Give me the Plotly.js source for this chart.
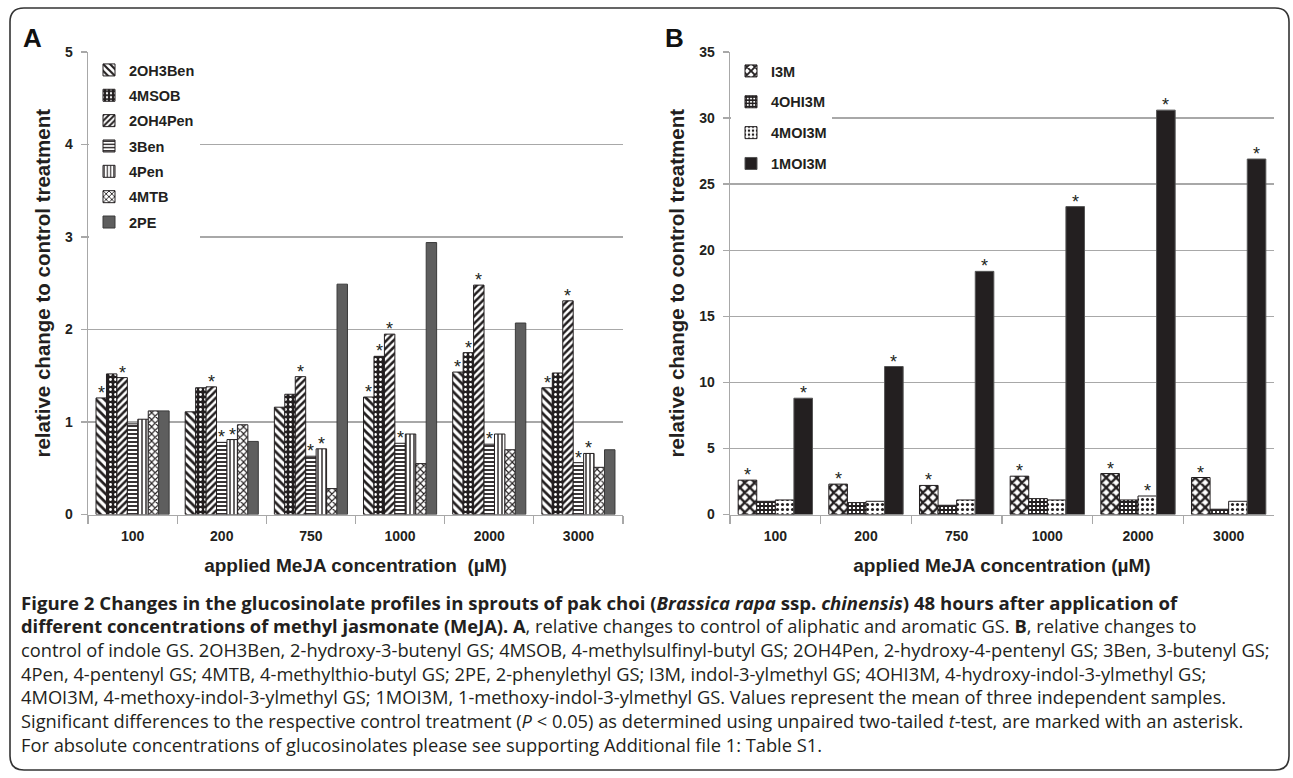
<!DOCTYPE html>
<html><head><meta charset="utf-8">
<script src="https://cdn.plot.ly/plotly-3.0.1.min.js"></script>
<style>html,body{margin:0;padding:0;background:#fff}#chart{width:1293px;height:778px}</style>
</head><body><div id="chart"></div>
<script>
// ---------- data ----------
const concentrations = ['100', '200', '750', '1000', '2000', '3000'];

const seriesA = ['2OH3Ben', '4MSOB', '2OH4Pen', '3Ben', '4Pen', '4MTB', '2PE'];
const val2OH3Ben = [1.26, 1.11, 1.16, 1.27, 1.54, 1.37];
const val4MSOB   = [1.52, 1.37, 1.30, 1.71, 1.75, 1.53];
const val2OH4Pen = [1.48, 1.38, 1.49, 1.95, 2.48, 2.31];
const val3Ben    = [0.98, 0.78, 0.63, 0.77, 0.76, 0.56];
const val4Pen    = [1.03, 0.81, 0.71, 0.87, 0.87, 0.66];
const val4MTB    = [1.12, 0.97, 0.28, 0.55, 0.70, 0.51];
const val2PE     = [1.12, 0.79, 2.49, 2.94, 2.07, 0.70];

const sig2OH3Ben = [1, 0, 0, 1, 1, 1];
const sig4MSOB   = [0, 0, 0, 1, 1, 0];
const sig2OH4Pen = [1, 1, 1, 1, 1, 1];
const sig3Ben    = [0, 1, 1, 1, 1, 1];
const sig4Pen    = [0, 1, 1, 0, 0, 1];
const sig4MTB    = [0, 0, 0, 0, 0, 0];
const sig2PE     = [0, 0, 0, 0, 0, 0];

const seriesB = ['I3M', '4OHI3M', '4MOI3M', '1MOI3M'];
const valI3M    = [2.6, 2.3, 2.2, 2.9, 3.1, 2.8];
const val4OHI3M = [1.0, 0.9, 0.7, 1.2, 1.1, 0.4];
const val4MOI3M = [1.1, 1.0, 1.1, 1.1, 1.4, 1.0];
const val1MOI3M = [8.8, 11.2, 18.4, 23.3, 30.6, 26.9];

const sigI3M    = [1, 1, 1, 1, 1, 1];
const sig4OHI3M = [0, 0, 0, 0, 0, 0];
const sig4MOI3M = [0, 0, 0, 0, 1, 0];
const sig1MOI3M = [1, 1, 1, 1, 1, 1];

const yTicksA = [0, 1, 2, 3, 4, 5];
const yTicksB = [0, 5, 10, 15, 20, 25, 30, 35];

// ---------- styling ----------
const W = 1293, H = 778;
const px = x => x / W;
const py = y => 1 - y / H;
const FONT = 'Liberation Sans, Arial, sans-serif';
const CAPFONT = 'Open Sans, Noto Sans, sans-serif';
const BARGAP = 0.18;
const INK = '#231f20';

const stylesA = [
  {shape: '\\', bgcolor: 'white', fgcolor: INK, size: 6, solidity: 0.45},
  {shape: '.', bgcolor: INK, fgcolor: 'white', size: 5, solidity: 0.25},
  {shape: '/', bgcolor: 'white', fgcolor: INK, size: 5, solidity: 0.5},
  {shape: '-', bgcolor: 'white', fgcolor: INK, size: 4, solidity: 0.45},
  {shape: '|', bgcolor: 'white', fgcolor: INK, size: 4, solidity: 0.35},
  {shape: 'x', bgcolor: 'white', fgcolor: INK, size: 5, solidity: 0.4},
  null
];
const stylesB = [
  {shape: 'x', bgcolor: 'white', fgcolor: INK, size: 7, solidity: 0.55},
  {shape: '+', bgcolor: 'white', fgcolor: INK, size: 4, solidity: 0.7},
  {shape: '.', bgcolor: 'white', fgcolor: INK, size: 5, solidity: 0.3},
  null
];

const valsA = [val2OH3Ben, val4MSOB, val2OH4Pen, val3Ben, val4Pen, val4MTB, val2PE];
const sigsA = [sig2OH3Ben, sig4MSOB, sig2OH4Pen, sig3Ben, sig4Pen, sig4MTB, sig2PE];
const valsB = [valI3M, val4OHI3M, val4MOI3M, val1MOI3M];
const sigsB = [sigI3M, sig4OHI3M, sig4MOI3M, sig1MOI3M];

const traces = [];
seriesA.forEach((name, i) => {
  const st = stylesA[i];
  const marker = st ? {color: 'white', line: {color: INK, width: 1}, pattern: Object.assign({fillmode: 'replace'}, st)}
                    : {color: '#5e5e5e', line: {color: '#3a3a3a', width: 1}};
  traces.push({type: 'bar', name: name, x: concentrations, y: valsA[i], marker: marker,
    xaxis: 'x', yaxis: 'y', legend: 'legend', legendgroup: 'a' + i, hoverinfo: 'y+name'});
});
seriesB.forEach((name, i) => {
  const st = stylesB[i];
  const marker = st ? {color: 'white', line: {color: INK, width: 1}, pattern: Object.assign({fillmode: 'replace'}, st)}
                    : {color: INK, line: {color: '#555', width: 1}};
  traces.push({type: 'bar', name: name, x: concentrations, y: valsB[i], marker: marker,
    xaxis: 'x2', yaxis: 'y2', legend: 'legend2', legendgroup: 'b' + i, hoverinfo: 'y+name'});
});

// asterisks
const annotations = [];
function stars(vals, sigs, xa, ya) {
  const n = vals.length, w = (1 - BARGAP) / n;
  vals.forEach((arr, i) => {
    const off = -(1 - BARGAP) / 2 + (i + 0.5) * w;
    arr.forEach((v, k) => {
      if (sigs[i][k]) annotations.push({xref: xa, yref: ya, x: k + off, y: v, text: '*',
        showarrow: false, yanchor: 'bottom', yshift: -7, font: {family: FONT, size: 18, color: INK}});
    });
  });
}
stars(valsA, sigsA, 'x', 'y');
stars(valsB, sigsB, 'x2', 'y2');

// panel letters
annotations.push({xref: 'paper', yref: 'paper', x: px(21), y: py(38), xanchor: 'left', yanchor: 'middle', text: '<b>A</b>', showarrow: false, font: {family: FONT, size: 26, color: '#111'}});
annotations.push({xref: 'paper', yref: 'paper', x: px(663), y: py(38), xanchor: 'left', yanchor: 'middle', text: '<b>B</b>', showarrow: false, font: {family: FONT, size: 26, color: '#111'}});

// caption
const captionLines = [
  '<b>Figure 2 Changes in the glucosinolate profiles in sprouts of pak choi (<i>Brassica rapa</i> ssp. <i>chinensis</i>) 48 hours after application of</b>',
  '<b>different concentrations of methyl jasmonate (MeJA). A</b>, relative changes to control of aliphatic and aromatic GS. <b>B</b>, relative changes to',
  'control of indole GS. 2OH3Ben, 2-hydroxy-3-butenyl GS; 4MSOB, 4-methylsulfinyl-butyl GS; 2OH4Pen, 2-hydroxy-4-pentenyl GS; 3Ben, 3-butenyl GS;',
  '4Pen, 4-pentenyl GS; 4MTB, 4-methylthio-butyl GS; 2PE, 2-phenylethyl GS; I3M, indol-3-ylmethyl GS; 4OHI3M, 4-hydroxy-indol-3-ylmethyl GS;',
  '4MOI3M, 4-methoxy-indol-3-ylmethyl GS; 1MOI3M, 1-methoxy-indol-3-ylmethyl GS. Values represent the mean of three independent samples.',
  'Significant differences to the respective control treatment (<i>P</i> &lt; 0.05) as determined using unpaired two-tailed <i>t</i>-test, are marked with an asterisk.',
  'For absolute concentrations of glucosinolates please see supporting Additional file 1: Table S1.'
];
const captionSizes = [18.6, 18.3, 18.3, 18.3, 18.3, 18.3, 18.3];
captionLines.forEach((t, i) => {
  annotations.push({xref: 'paper', yref: 'paper', x: px(19), y: py(602 + i * 23.7), xanchor: 'left', yanchor: 'middle',
    text: t, showarrow: false, align: 'left', font: {family: CAPFONT, size: captionSizes[i], color: '#231f20'}});
});

// rounded frame
const r = 14, L = 10, T = 8, R = 1289, B = 770;
const framePath = `M ${px(L + r)} ${py(T)} L ${px(R - r)} ${py(T)} Q ${px(R)} ${py(T)} ${px(R)} ${py(T + r)} L ${px(R)} ${py(B - r)} Q ${px(R)} ${py(B)} ${px(R - r)} ${py(B)} L ${px(L + r)} ${py(B)} Q ${px(L)} ${py(B)} ${px(L)} ${py(B - r)} L ${px(L)} ${py(T + r)} Q ${px(L)} ${py(T)} ${px(L + r)} ${py(T)} Z`;

const tickFont = {family: FONT, size: 14, color: '#231f20', weight: 700};
const titleFont = {family: FONT, size: 19, color: '#231f20', weight: 700};
const yTitleFont = {family: FONT, size: 20.5, color: '#231f20', weight: 700};
const gridC = '#a8a8a8';

function xax(domain, title) {
  return {domain: domain, type: 'category', showgrid: false, zeroline: false, showline: true,
    linecolor: gridC, linewidth: 1.3, ticks: 'outside', tickson: 'boundaries', ticklen: 8, tickcolor: gridC, tickwidth: 1.3,
    tickfont: tickFont, ticklabelstandoff: 8, title: {text: title, font: titleFont, standoff: 16}, fixedrange: true};
}
function yax(domain, range, vals, anchor) {
  return {domain: domain, range: range, tickvals: vals, showgrid: true, gridcolor: gridC, gridwidth: 1.3,
    zeroline: false, showline: true, linecolor: gridC, linewidth: 1.3, ticks: 'outside', ticklen: 6, tickcolor: gridC, tickwidth: 1.3,
    tickfont: tickFont, ticklabelstandoff: 5, anchor: anchor,
    title: {text: 'relative change to control treatment', font: yTitleFont, standoff: 9}, fixedrange: true};
}

const legFont = {family: FONT, size: 14.5, color: '#231f20', weight: 700};
const layout = {
  width: W, height: H, margin: {l: 0, r: 0, t: 0, b: 0, autoexpand: false},
  paper_bgcolor: 'white', plot_bgcolor: 'white',
  barmode: 'group', bargap: BARGAP, bargroupgap: 0,
  xaxis: Object.assign(xax([px(88), px(623)], 'applied MeJA concentration \u00a0(µM)'), {anchor: 'y'}),
  yaxis: yax([py(514.5), py(52)], [0, 5], yTicksA, 'x'),
  xaxis2: Object.assign(xax([px(730), px(1274)], 'applied MeJA concentration (µM)'), {anchor: 'y2'}),
  yaxis2: yax([py(514.5), py(52)], [0, 35], yTicksB, 'x2'),
  legend: {x: px(89), y: py(54), xanchor: 'left', yanchor: 'top', bgcolor: 'white', tracegroupgap: 3.5,
    font: legFont},
  legend2: {x: px(731), y: py(55), xanchor: 'left', yanchor: 'top', bgcolor: 'white', tracegroupgap: 9,
    font: legFont},
  showlegend: true,
  annotations: annotations,
  shapes: [{type: 'path', xref: 'paper', yref: 'paper', path: framePath, line: {color: '#333', width: 1.6}}]
};

Plotly.newPlot('chart', traces, layout, {displayModeBar: false, staticPlot: true});
</script>
</body></html>
